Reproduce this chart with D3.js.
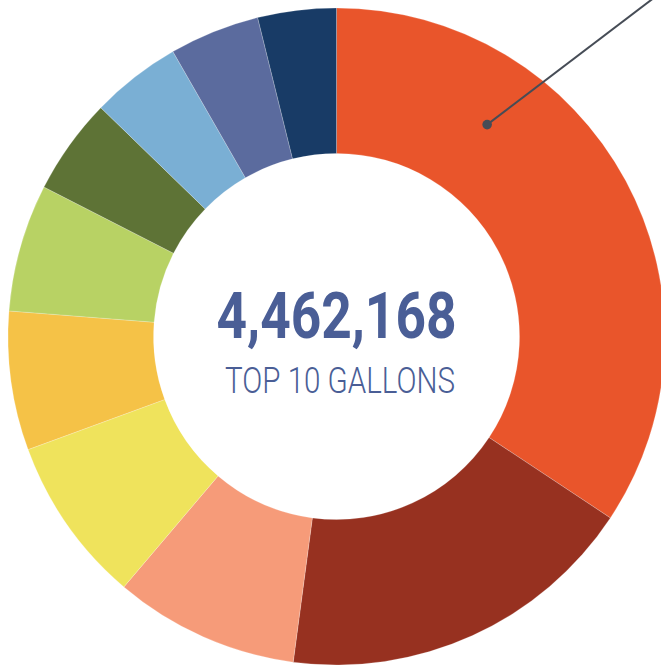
<!DOCTYPE html>
<html>
<head>
<meta charset="utf-8">
<script src="https://cdn.jsdelivr.net/npm/d3@7"></script>
<style>
  html, body { margin: 0; padding: 0; background: #fff; }
  svg { display: block; }
</style>
</head>
<body>
<svg width="661" height="668"></svg>
<script>
// slices, clockwise from 12 o'clock
var categories = ["A", "B", "C", "D", "E", "F", "G", "H", "I", "J"];
var gallons = [1531000, 794000, 406000, 366000, 305000, 280000, 212000, 198000, 198000, 172168];
var colors = ["#E9552B", "#973120", "#F69B79", "#EFE35C", "#F5C247", "#B8D264", "#5E7336", "#7AAFD4", "#5B6B9E", "#183B66"];
var totalLabel = "4,462,168";
var subLabel = "TOP 10 GALLONS";

var svg = d3.select("svg"),
    cx = 336.5,
    cy = 336.5,
    outerR = 328.5,
    innerR = 183;

var data = categories.map(function(c, i) { return {name: c, value: gallons[i], color: colors[i]}; });

var pie = d3.pie()
    .sort(null)
    .value(function(d) { return d.value; });

var arc = d3.arc()
    .innerRadius(innerR)
    .outerRadius(outerR);

var g = svg.append("g")
    .attr("transform", "translate(" + cx + "," + cy + ")");

g.selectAll(".slice")
  .data(pie(data))
  .enter().append("path")
    .attr("class", "slice")
    .attr("d", arc)
    .attr("fill", function(d) { return d.data.color; })
    .attr("stroke", "#fff")
    .attr("stroke-opacity", 0.35)
    .attr("stroke-width", 0.6);

// callout from the biggest slice
var pointAngle = 0.618;  // radians, clockwise from top
var pointR = 260;
var px = Math.sin(pointAngle) * pointR,
    py = -Math.cos(pointAngle) * pointR;

g.append("line")
    .attr("x1", px)
    .attr("y1", py)
    .attr("x2", px + 200)
    .attr("y2", py - 152)
    .attr("stroke", "#464C56")
    .attr("stroke-width", 2);

g.append("circle")
    .attr("cx", px)
    .attr("cy", py)
    .attr("r", 4.8)
    .attr("fill", "#464C56");

g.append("text")
    .attr("x", 0)
    .attr("y", 1.5)
    .attr("text-anchor", "middle")
    .attr("font-family", "Roboto, 'DejaVu Sans Condensed', sans-serif")
    .attr("font-weight", "bold")
    .attr("font-size", 65)
    .attr("fill", "#4A5E96")
    .attr("textLength", 240)
    .attr("lengthAdjust", "spacingAndGlyphs")
    .text(totalLabel);

g.append("text")
    .attr("x", 3.5)
    .attr("y", 56.5)
    .attr("text-anchor", "middle")
    .attr("font-family", "Roboto, 'DejaVu Sans Condensed', sans-serif")
    .attr("font-weight", 300)
    .attr("font-size", 36.5)
    .attr("fill", "#4A5E96")
    .attr("textLength", 230)
    .attr("lengthAdjust", "spacingAndGlyphs")
    .text(subLabel);
</script>
</body>
</html>
